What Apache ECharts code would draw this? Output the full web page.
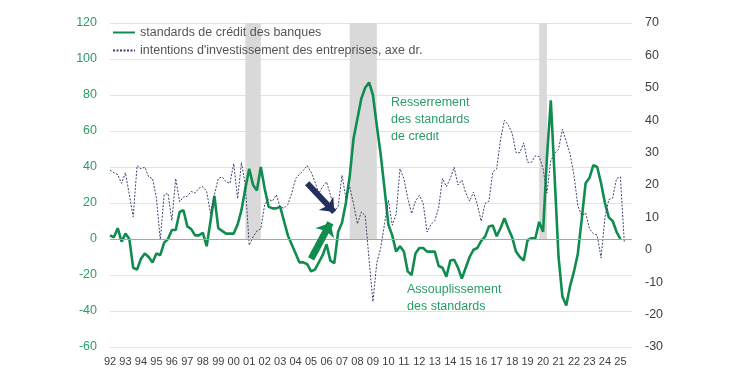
<!DOCTYPE html>
<html>
<head>
<meta charset="utf-8">
<script src="https://cdn.jsdelivr.net/npm/echarts@6/dist/echarts.min.js"></script>
<style>
html, body { margin: 0; padding: 0; background: #fff; }
#chart { width: 744px; height: 377px; }
</style>
</head>
<body>
<div id="chart"></div>
<script>
// années (libellés de l'axe), données trimestrielles
var years = ['92', '93', '94', '95', '96', '97', '98', '99', '00', '01', '02', '03', '04', '05', '06', '07', '08',
    '09', '10', '11', '12', '13', '14', '15', '16', '17', '18', '19', '20', '21', '22', '23', '24', '25'];
var quarters = [];
years.forEach(function(y) {
    for (var k = 1; k <= 4; k++) quarters.push(y + 'T' + k);
});

// standards de crédit des banques (axe gauche)
var creditStandards = [
    2, 1, 6, -1.5,   3, 0, -16, -17,   -11, -8, -10, -13,   -8, -9, -2, 0,
    5, 5, 15, 16,   7, 5.5, 2, 2,   3.5, -4, 10, 24,   6, 4.5, 3, 3,
    3, 8, 16, 28,   39, 30, 27, 40,   28, 18, 17, 17,   18, 10, 2, -3,
    -8, -13, -13, -14,   -18, -17, -13, -9,   -3, -12, -13.5, 4,   9, 20, 35, 56,
    67, 78, 84, 87,   80, 63, 47, 28,   8, 2, -7, -4,   -7, -18, -20, -8,
    -5, -5, -7, -7,   -7, -15, -16, -21,   -12, -11.5, -16, -22,   -16, -10, -6, -5,
    -1, 1.3, 7, 7.5,   1.5, 6, 11.5, 6,   1, -7, -10, -12,   -0.5, 0.4, 0.4, 9.5,
    4, 45, 77, 34,   -10, -32, -37, -26,   -18, -8, 11, 31,   34, 41, 40, 31,
    20, 12, 10, 4,   0, null, null, null
];

// intentions d'investissement des entreprises (axe droit)
var investIntentions = [
    24.6, 23.8, 23.2, 20.5,   23.8, 17, 10.2, 26,   25, 25.5, 22.5, 22,   16, 3, 17, 17.4,
    9, 22, 14.8, 16.3,   16.5, 18, 17.5, 19,   19.5, 18, 11.2, 17,   22, 22.5, 21, 20.5,
    26.6, 15.8, 26.9, 20,   1.4, 4, 5.8, 6.5,   14, 15.6, 15, 17,   13.3, 12.8, 14, 17.5,
    22, 23.3, 24.5, 26,   24, 21, 17.4, 19.5,   21, 17, 12, 13.3,   23, 16, 19.5, 14,
    8, 11.7, 10.6, -3,   -16, -4, 0.5, 8,   15.3, 7.6, 11, 25,   22, 16, 11.2, 15,
    16.8, 14.3, 5.5, 7.8,   9, 13, 22, 19.5,   22, 25.5, 20, 21.5,   17.5, 15, 17.8, 14,
    8.8, 14.3, 15, 24,   25, 34, 40, 38.5,   36, 30, 30, 33,   27, 27, 29, 28.8,
    25, 17.5, 27.6, 29.7,   31, 37.2, 33.5, 29.5,   23, 13.5, 10.6, 11.4,   6.5, 5, 4.5, -2.5,
    10, 15.5, 16, 22,   22.5, 2.5, null, null
];

// récessions (zones grises)
var recessions = [['00T4', '01T4'], ['07T3', '09T2'], ['19T4', '20T2']];

var green = '#118c4f';
var greenText = '#2a9d67';
var navy = '#232f5c';
var font = 'Liberation Sans, Arial, sans-serif';

var myChart = echarts.init(document.getElementById('chart'));

var option = {
    animation: false,
    textStyle: { fontFamily: font },
    grid: { left: 110, right: 112, top: 23, bottom: 30 },
    legend: {
        orient: 'vertical',
        left: 107,
        top: 21,
        itemWidth: 22,
        itemHeight: 14,
        itemGap: 5,
        itemStyle: { opacity: 0 },
        textStyle: { fontSize: 12.5, color: '#555', fontFamily: font },
        data: ['standards de crédit des banques', "intentions d'investissement des entreprises, axe dr."]
    },
    xAxis: {
        type: 'category',
        data: quarters,
        boundaryGap: false,
        axisLine: { show: false },
        axisTick: { show: false },
        axisLabel: {
            interval: function(index) { return index % 4 === 0; },
            formatter: function(v) { return v.slice(0, 2); },
            fontSize: 11,
            color: '#404040',
            margin: 9
        },
        splitLine: { show: false }
    },
    yAxis: [
        {
            type: 'value', min: -60, max: 120, interval: 20,
            axisLine: { show: false }, axisTick: { show: false },
            axisLabel: { fontSize: 12.5, color: greenText, margin: 13 },
            splitLine: { lineStyle: { color: '#e3e3e3', width: 1 } }
        },
        {
            type: 'value', min: -30, max: 70, interval: 10, position: 'right',
            axisLine: { show: false }, axisTick: { show: false },
            axisLabel: { fontSize: 12.5, color: '#404040', margin: 13 },
            splitLine: { show: false }
        }
    ],
    series: [
        {
            name: 'standards de crédit des banques',
            type: 'line',
            yAxisIndex: 0,
            data: creditStandards,
            symbol: 'none',
            z: 3,
            lineStyle: { color: green, width: 2.6 },
            itemStyle: { color: green },
            markArea: {
                silent: true,
                itemStyle: { color: '#d9d9d9' },
                data: recessions.map(function(r) {
                    return [{ xAxis: r[0], yAxis: 120 }, { xAxis: r[1], yAxis: 0 }];
                })
            },
            markLine: {
                silent: true,
                symbol: 'none',
                label: { show: false },
                data: [
                    { yAxis: 0, lineStyle: { color: '#a6a6a6', width: 1, type: 'solid' } },
                    [
                        { coord: [51, 31], symbol: 'none', lineStyle: { color: navy, width: 6, type: 'solid' } },
                        { coord: [58, 15], symbol: 'arrow', symbolSize: [15, 12] }
                    ],
                    [
                        { coord: [52, -11], symbol: 'none', lineStyle: { color: green, width: 7, type: 'solid' } },
                        { coord: [57, 9], symbol: 'arrow', symbolSize: [16, 12] }
                    ]
                ]
            }
        },
        {
            name: "intentions d'investissement des entreprises, axe dr.",
            type: 'line',
            yAxisIndex: 1,
            data: investIntentions,
            symbol: 'none',
            z: 4,
            lineStyle: { color: '#3b4470', width: 1, type: [2, 1.5] },
            itemStyle: { color: '#3b4470' }
        }
    ],
    graphic: [
        {
            type: 'text', left: 391, top: 94,
            style: {
                text: 'Resserrement\ndes standards\nde crédit',
                fill: greenText, fontSize: 12.5, lineHeight: 17, fontFamily: font
            }
        },
        {
            type: 'text', left: 407, top: 281,
            style: {
                text: 'Assouplissement\ndes standards',
                fill: greenText, fontSize: 12.5, lineHeight: 17, fontFamily: font
            }
        }
    ]
};
myChart.setOption(option);
</script>
</body>
</html>
